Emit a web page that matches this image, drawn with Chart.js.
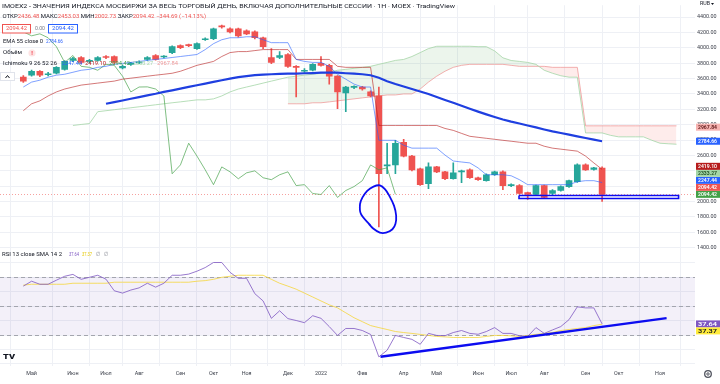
<!DOCTYPE html>
<html lang="ru"><head><meta charset="utf-8"><title>IMOEX2</title>
<script src="https://cdn.jsdelivr.net/npm/chart.js@4.4.1/dist/chart.umd.min.js"></script>
<style>html,body{margin:0;padding:0;background:#fff;overflow:hidden}#wrap{width:720px;height:384px}</style>
</head><body><div id="wrap"><canvas id="c" width="720" height="384"></canvas></div>
<script>
// ---------- DATA (weekly bars, index 0 = week of 26 Apr 2021) ----------
const monthLabels = ['Май','Июн','Июл','Авг','Сен','Окт','Ноя','Дек','2022','Фев','Апр','Май','Июн','Июл','Авг','Сен','Окт','Ноя'];
const monthIndex  = [1,6,10,14,19,23,27,32,36,41,46,50,55,59,63,68,72,77];
const priceTicks = [1400,1600,1800,2000,2200,2400,2600,2800,3000,3200,3400,3600,3800,4000,4200,4400];
const rsiTicks = [10,20,30,40,50,60,70,80];
const rsiBand = [30,70];
const rsiLevels = [70,50,30];

const open  = [3618,3644,3695,3650,3670,3720,3836,3874,3823,3836,3887,3887,3740,3785,3805,3849,3900,3880,3938,4028,4041,3990,4105,4118,4284,4246,4246,4220,4208,4131,3874,3874,3913,3759,3695,3708,3797,3772,3631,3413,3485,3490,3426,3374,2464,2477,2772,2592,2426,2233,2451,2387,2297,2387,2413,2310,2272,2349,2387,2208,2208,2118,2092,2208,2105,2144,2195,2259,2477,2418,2436.48];
const high  = [3640,3710,3705,3680,3755,3835,3875,3885,3850,3885,3900,3895,3775,3812,3830,3885,3912,3900,4025,4040,4050,4066,4130,4258,4295,4260,4258,4235,4220,4140,3990,3951,3925,3770,3730,3795,3887,3785,3640,3500,3505,3500,3440,3490,2759,2797,2810,2600,2435,2503,2460,2395,2503,2410,2425,2318,2360,2398,2400,2232,2220,2125,2215,2215,2155,2205,2280,2490,2490,2445,2453.03];
const low   = [3550,3630,3625,3635,3660,3710,3820,3795,3805,3825,3860,3795,3725,3770,3795,3835,3840,3870,3925,3990,4015,3980,4095,4105,4255,4195,4140,4170,4115,3990,3795,3860,3745,3361,3680,3700,3760,3528,3208,3169,3470,3450,3360,1669,2362,2362,2580,2400,2210,2169,2375,2285,2290,2246,2300,2275,2265,2340,2156,2195,2095,2028,2085,2040,2090,2135,2185,2250,2405,2410,2002.73];
const close = [3567,3695,3644,3660,3746,3823,3861,3810,3836,3874,3874,3810,3758,3800,3815,3874,3849,3890,4015,4002,4028,4054,4118,4246,4272,4208,4156,4182,4131,4015,3810,3900,3759,3746,3708,3785,3772,3631,3426,3490,3492,3464,3374,2362,2477,2759,2592,2413,2220,2451,2387,2297,2374,2400,2310,2285,2349,2387,2208,2220,2105,2092,2208,2054,2144,2195,2272,2477,2413,2439.11,2094.42];

// Ichimoku 9 26 52 26
const tenkan = [3490,3554,3579,3618,3644,3656,3682,3708,3720,3746,3759,3785,3797,3810,3823,3836,3849,3861,3874,3887,3900,3913,3977,4054,4105,4131,4131,4144,4144,4105,4067,4067,4067,3849,3823,3810,3810,3759,3656,3592,3528,3490,3490,2797,2797,2797,2733,2695,2695,2695,2695,2605,2528,2515,2503,2438,2349,2349,2349,2336,2285,2220,2220,2220,2220,2220,2220,2259,2272,2272,2247.44];
const kijun  = [3182,3272,3310,3374,3426,3464,3490,3515,3528,3541,3554,3567,3592,3605,3618,3631,3644,3656,3669,3695,3733,3772,3797,3823,3887,3938,3951,3951,3964,3977,3977,3977,3977,3849,3849,3849,3849,3849,3759,3746,3746,3746,3746,2990,2990,2990,2990,2990,2990,2990,2990,2951,2926,2887,2849,2836,2823,2810,2797,2785,2772,2759,2759,2720,2695,2682,2669,2656,2592,2503,2419.10];
const spanAStart = 6;
const spanA = [2990,3003,3015,3169,3182,3195,3208,3220,3233,3246,3259,3272,3285,3297,3310,3323,3323,3336,3374,3426,3464,3490,3515,3541,3567,3592,3618,3631,3644,3656,3669,3682,3708,3720,3733,3746,3759,3785,3810,3836,3849,3887,3938,3990,4020,4020,4020,4020,4020,4015,4015,3960,3870,3835,3823,3810,3785,3708,3669,3637,3618,3618,2893,2893,2893,2862,2842,2842,2842,2842,2798,2759,2752,2746];
const spanBStart = 32;
const spanB = [3272,3272,3272,3285,3285,3297,3310,3323,3336,3349,3361,3374,3387,3387,3400,3400,3464,3554,3631,3695,3746,3772,3785,3785,3785,3785,3785,3772,3759,3759,3759,3759,3746,3746,3746,3746,2985,2985,2985,2985,2985,2985,2985,2985,2985,2985,2985,2985];
const spanANow = 2333.27, spanBNow = 2967.84;

const emaStart = 10;
const ema55 = [3272,3293,3315,3337,3359,3381,3402,3426,3447,3469,3491,3513,3534,3556,3578,3600,3618,3631,3644,3650,3656,3660,3663,3665,3669,3672,3676,3678,3676,3669,3663,3656,3643,3610,3566,3530,3497,3464,3432,3400,3360,3322,3285,3246,3208,3170,3134,3100,3068,3040,3015,2990,2965,2938,2913,2892,2870,2849,2827,2805,2784.66];

const rsi = [63.7,67.1,65.0,65.0,67.8,70.5,71.8,68.4,69.8,71.2,68.5,60.5,58.9,61.0,62.5,65.7,63.0,65.7,71.2,71.2,72.0,74.0,76.5,80.0,80.0,73.2,69.1,69.1,58.5,53.5,41.5,46.7,41.3,40.0,38.5,43.3,41.5,35.8,29.7,34.5,34.5,33.1,30.4,14.9,19.5,29.7,28.3,27.0,23.6,31.1,29.7,29.5,31.7,33.1,31.1,30.5,32.4,35.1,31.1,31.1,29.5,29.0,35.1,31.1,33.5,35.8,40.6,49.4,48.7,48.7,37.64];
const rsiSma = [64.4,65.0,65.0,65.0,65.0,65.0,65.7,65.7,65.7,65.7,65.7,66.4,66.4,66.4,66.4,66.4,66.4,66.4,66.4,66.4,66.4,67.1,67.5,68.4,69.8,70.5,71.2,71.2,71.2,71.2,68.4,65.7,63.7,61.6,58.9,56.2,53.5,50.8,48.7,45.3,41.9,39.2,36.5,35.1,33.8,32.4,31.7,31.1,30.4,29.7,29.0,28.7,28.3,28.3,28.3,28.3,29.0,29.7,29.7,29.4,29.0,29.7,30.4,31.1,31.7,33.1,33.8,34.5,35.1,36.5,37.37];

// user drawings (in bar-index / value units)
const rsiTrendX = [43.2, 77.8];
const rsiTrendY = [15.0, 41.7];
const supportBoxX = [59.95, 79.25];
const supportBoxY = [2041, 2079];
const loopX = [41.98,40.83,40.72,41.02,41.59,42.35,43.12,43.76,44.26,44.83,45.09,45.01,44.64,43.87,43.12,42.35,41.78];
const loopY = [1691,1840,1968,2054,2140,2195,2211,2160,2076,1947,1819,1711,1640,1596,1596,1647,1711];

// ---------- helpers ----------
const UP='#26a69a', DN='#ef5350', DK='#131722', GR='#787b86';
const FONT='Roboto, "Liberation Sans", sans-serif';
const idx = open.map((_,i)=>i);
const candleCol = idx.map(i => close[i] >= open[i] ? UP : DN);
const pts = (arr, start) => arr.map((v,k)=>({x:start+k, y:v}));
const last = a => a[a.length-1];
const chg = last(close) - close[close.length-2];
const chgPct = chg / close[close.length-2] * 100;

function fitText(ctx, text, x0, x1, y, size, color, weight){
  ctx.save(); ctx.font=(weight||'')+' '+size+'px '+FONT; ctx.fillStyle=color; ctx.textBaseline='middle'; ctx.textAlign='left';
  const w=ctx.measureText(text).width; ctx.translate(x0,y); ctx.scale((x1-x0)/w,1); ctx.fillText(text,0,0); ctx.restore();
}
function richText(ctx, parts, x0, x1, y, size){
  ctx.save(); ctx.font=size+'px '+FONT; ctx.textBaseline='middle'; ctx.textAlign='left';
  const tot=parts.reduce((s,p)=>s+ctx.measureText(p[0]).width,0);
  ctx.translate(x0,y); ctx.scale((x1-x0)/tot,1); let x=0;
  for(const [t,c] of parts){ ctx.fillStyle=c; ctx.fillText(t,x,0); x+=ctx.measureText(t).width; }
  ctx.restore();
}
function drawTags(ctx, tags, scale, dir){
  const h=7, x0=696, x1=720;
  const items = tags.map(t=>Object.assign({}, t, {py: scale.getPixelForValue(t.v)}));
  if(dir<0){ items.sort((a,b)=>b.py-a.py); let p=1e9; for(const it of items){ if(it.py>p-h) it.py=p-h; p=it.py; } }
  else { items.sort((a,b)=>a.py-b.py); let p=-1e9; for(const it of items){ if(it.py<p+h) it.py=p+h; p=it.py; } }
  for(const it of items){
    ctx.fillStyle=it.bg; ctx.fillRect(x0, it.py-h/2, x1-x0, h);
    fitText(ctx, it.v.toFixed(2), x0+2, x0+21, it.py+0.3, 5.2, it.fg, '600');
  }
}

const overlay = {
  id:'overlay',
  beforeDatasetsDraw(chart){
    const {ctx, chartArea:a, scales} = chart; const yR=scales.yR, y=scales.y;
    ctx.save();
    const t=yR.getPixelForValue(rsiBand[1]), b=yR.getPixelForValue(rsiBand[0]);
    ctx.fillStyle='rgba(126,87,194,0.09)'; ctx.fillRect(a.left,t,a.right-a.left,b-t);
    ctx.strokeStyle='#a3a5ae'; ctx.lineWidth=1; ctx.setLineDash([4,3]);
    for(const v of rsiLevels){ const py=Math.round(yR.getPixelForValue(v))+0.5; ctx.beginPath(); ctx.moveTo(a.left,py); ctx.lineTo(a.right,py); ctx.stroke(); }
    const py=Math.round(y.getPixelForValue(last(close)))+0.5;
    ctx.strokeStyle='rgba(239,83,80,0.55)'; ctx.setLineDash([1,2]);
    ctx.beginPath(); ctx.moveTo(a.left,py); ctx.lineTo(a.right,py); ctx.stroke();
    ctx.restore();
  },
  afterDraw(chart){
    const {ctx, scales} = chart;
    ctx.save();
    fitText(ctx,'IMOEX2 - ЗНАЧЕНИЯ ИНДЕКСА МОСБИРЖИ ЗА ВЕСЬ ТОРГОВЫЙ ДЕНЬ, ВКЛЮЧАЯ ДОПОЛНИТЕЛЬНЫЕ СЕССИИ · 1Н · MOEX · TradingView',2,455,6,6,DK);
    const f = v => v.toFixed(2);
    richText(ctx,[['ОТКР',DK],[f(last(open)),DN],[' МАКС',DK],[f(last(high)),DN],[' МИН',DK],[f(last(low)),DN],[' ЗАКР',DK],[f(last(close)),DN],[' −'+Math.abs(chg).toFixed(2)+' (−'+Math.abs(chgPct).toFixed(2)+'%)',DN]],2.5,206,16.5,5.5);
    ctx.fillStyle='#fff'; ctx.fillRect(2.5,24,28,9); ctx.strokeStyle=DN; ctx.lineWidth=1; ctx.strokeRect(2.5,24.5,28,8.5);
    fitText(ctx,f(last(close)),6,27,29,5.5,DN);
    fitText(ctx,'0.00',35,45,29,5.5,GR);
    ctx.fillStyle='#fff'; ctx.fillRect(48.5,24,29,9); ctx.strokeStyle='#2962ff'; ctx.strokeRect(48.5,24.5,29,8.5);
    fitText(ctx,f(last(close)),52,74,29,5.5,'#2962ff');
    fitText(ctx,'EMA 55 close 0',3,43,42,5.5,DK);
    fitText(ctx,f(last(ema55)),46,63,42,5.5,'#2962ff');
    fitText(ctx,'Объём',3,22,53,5.5,DK);
    ctx.fillStyle='#fde3e3'; ctx.beginPath(); ctx.arc(32,53,3.6,0,Math.PI*2); ctx.fill();
    fitText(ctx,'!',31.2,32.8,53,6,'#f23645','700');
    fitText(ctx,'Ichimoku 9 26 52 26',3,57,64,5.5,DK);
    fitText(ctx,f(last(tenkan)),62,82,64,5.5,'#2962ff');
    fitText(ctx,f(last(kijun)),85,106,64,5.5,'#b71c1c');
    fitText(ctx,f(last(close)),109,130,64,5.5,'#43a047');
    fitText(ctx,f(spanANow),133,153,64,5.5,'#a5d6a7');
    fitText(ctx,f(spanBNow),157,178,64,5.5,'#ef9a9a');
    ctx.fillStyle='#fff'; ctx.fillRect(0.5,72.5,14,8); ctx.strokeStyle='#e0e3eb'; ctx.strokeRect(0.5,72.5,14,8);
    ctx.strokeStyle=DK; ctx.beginPath(); ctx.moveTo(5.5,78); ctx.lineTo(7.5,75.5); ctx.lineTo(9.5,78); ctx.stroke();
    fitText(ctx,'RSI 13 close SMA 14 2',2,62,255,5.5,DK);
    fitText(ctx,f(last(rsi)),69,79,255,5.5,'#7e57c2');
    fitText(ctx,f(last(rsiSma)),82,92,255,5.5,'#e6c800');
    fitText(ctx,'∅',96,100,255,5.5,GR); fitText(ctx,'∅',104,108,255,5.5,GR);
    drawTags(ctx,[
      {v:spanBNow,bg:'#f6b3b1',fg:'#5d1515'},
      {v:last(ema55),bg:'#2962ff',fg:'#fff'},
      {v:last(close),bg:'#43a047',fg:'#fff'},
      {v:last(close),bg:'#ef5350',fg:'#fff'},
      {v:last(tenkan),bg:'#2962ff',fg:'#fff'},
      {v:spanANow,bg:'#a5d6a7',fg:'#1b4d1e'},
      {v:last(kijun),bg:'#b71c1c',fg:'#fff'}
    ], scales.y, -1);
    drawTags(ctx,[
      {v:last(rsi),bg:'#7e57c2',fg:'#fff'},
      {v:last(rsiSma),bg:'#ffeb3b',fg:'#131722'}
    ], scales.yR, 1);
    fitText(ctx,'RUB',700,710,4,5,DK);
    ctx.fillStyle=DK; ctx.beginPath(); ctx.moveTo(711,3); ctx.lineTo(714,3); ctx.lineTo(712.5,5); ctx.fill();
    ctx.strokeStyle='#50535e'; ctx.lineWidth=1.3; ctx.beginPath(); ctx.arc(708,374,3.3,0,Math.PI*2); ctx.stroke();
    ctx.lineWidth=1; ctx.beginPath(); ctx.arc(708,374,1.2,0,Math.PI*2); ctx.stroke();
    fitText(ctx,'TV',3,15,357,8,DK,'900');
    ctx.restore();
  }
};

const thin = (data, color, axis, order, extra) => Object.assign({type:'line', data, borderColor:color, borderWidth:0.8, pointRadius:0, fill:false, tension:0, yAxisID:axis, order}, extra||{});

const datasets = [
  thin(pts(spanA, spanAStart), '#a5d6a7', 'y', 18),
  thin(pts(spanA.slice(spanBStart-spanAStart), spanBStart), 'rgba(0,0,0,0)', 'y', 19, {borderWidth:0}),
  thin(pts(spanB, spanBStart), '#ef9a9a', 'y', 20, {fill:{target:1, above:'rgba(244,67,54,0.1)', below:'rgba(67,160,71,0.1)'}}),
  {type:'bar', data: idx.map(i=>({x:i, y:[low[i],high[i]]})), backgroundColor:candleCol, barThickness:1, grouped:false, yAxisID:'y', order:12},
  {type:'bar', data: idx.map(i=>({x:i, y:[Math.min(open[i],close[i]),Math.max(open[i],close[i])]})), backgroundColor:candleCol, barThickness:6, minBarLength:1, grouped:false, yAxisID:'y', order:11},
  thin(pts(tenkan,0), 'rgba(41,98,255,0.75)', 'y', 5),
  thin(pts(kijun,0), 'rgba(183,28,28,0.75)', 'y', 5),
  thin(close.slice(25).map((v,k)=>({x:k,y:v})), 'rgba(67,160,71,0.85)', 'y', 5),
  thin(pts(ema55, emaStart), '#1f3fe0', 'y', 3, {borderWidth:2.2}),
  thin(pts(rsiSma,0), '#f5d53a', 'yR', 6),
  thin(pts(rsi,0), '#7e57c2', 'yR', 5),
  thin(rsiTrendX.map((x,k)=>({x, y:rsiTrendY[k]})), '#0c0cf0', 'yR', 0, {borderWidth:2.3}),
  thin(loopX.map((x,k)=>({x, y:loopY[k]})), '#0c0cf0', 'y', 0, {borderWidth:1.8, tension:0.35}),
  thin([{x:supportBoxX[0],y:supportBoxY[1]},{x:supportBoxX[1],y:supportBoxY[1]},{x:supportBoxX[1],y:supportBoxY[0]},{x:supportBoxX[0],y:supportBoxY[0]},{x:supportBoxX[0],y:supportBoxY[1]}], '#0c0cf0', 'y', 0, {borderWidth:1.6, clip:false})
];

const tickFont = {size:5.4, family:FONT};
new Chart(document.getElementById('c'), {
  type:'line',
  data:{datasets},
  options:{
    responsive:false, animation:false, devicePixelRatio:1, events:[],
    layout:{padding:0},
    plugins:{legend:{display:false}, tooltip:{enabled:false}},
    scales:{
      x:{type:'linear', min:-0.486, max:78.9, afterFit(s){s.height=18;},
         afterBuildTicks(s){ s.ticks = monthIndex.map(v=>({value:v})); },
         ticks:{autoSkip:false, maxRotation:0, padding:4, font:tickFont, color:'#3a3e49', callback:(v,k)=>monthLabels[k]},
         grid:{color:'#eef0f5', drawTicks:false}, border:{display:false}},
      yR:{type:'linear', position:'right', weight:0, min:8.62, max:257.43, afterFit(s){s.width=0;},
         afterBuildTicks(s){ s.ticks = rsiTicks.map(v=>({value:v})); },
         ticks:{autoSkip:false, padding:2, font:tickFont, color:'#3a3e49', callback:v=>v.toFixed(2)},
         grid:{color:'#eef0f5', drawTicks:false}, border:{display:false}},
      y:{type:'linear', position:'right', weight:1, min:-138.4, max:4553.7, afterFit(s){s.width=25;},
         afterBuildTicks(s){ s.ticks = priceTicks.map(v=>({value:v})); },
         ticks:{autoSkip:false, padding:2, font:tickFont, color:'#3a3e49', callback:v=>v.toFixed(2)},
         grid:{color:'#eef0f5', drawTicks:false}, border:{display:false}}
    }
  },
  plugins:[overlay]
});
</script></body></html>
